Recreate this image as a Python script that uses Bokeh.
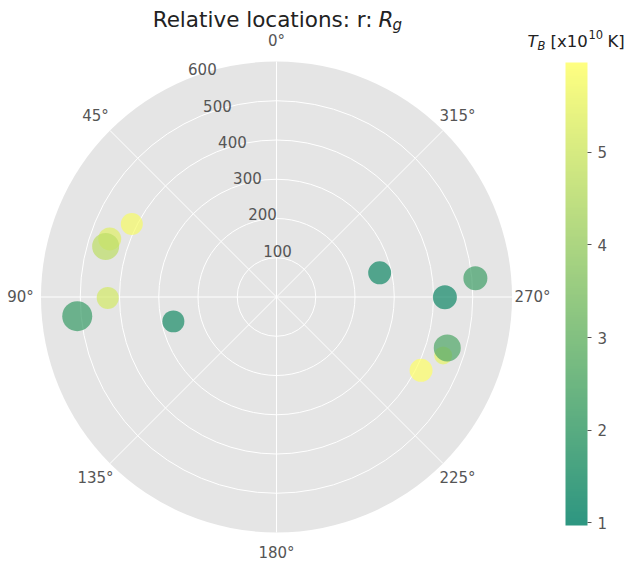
import numpy as np
from bokeh.plotting import figure
from bokeh.models import ColumnDataSource, LinearColorMapper, ColorBar, FixedTicker, Label, Range1d
from bokeh.core.properties import value
from bokeh.embed import file_html
from bokeh.resources import INLINE

# ---- data -------------------------------------------------------------
# position angle in degrees (counter-clockwise from north) and radius in R_g
theta_deg = [63.2, 243.1, 70.8, 250.7, 73.5, 253.4, 90.3, 269.9, 95.5, 275.4, 103.3, 283.2]
radius_rg = [413, 413, 450, 450, 454, 454, 430, 429, 510, 509, 270, 270]
# brightness temperature, units of 1e10 K
tb_1e10 = [5.8, 5.97, 5.35, 5.5, 4.7, 2.5, 5.1, 1.3, 2.05, 2.2, 1.45, 1.35]
# marker diameters (px)
marker_size = [22, 23, 23, 18, 27, 27, 22, 24, 30, 24, 22, 23]
# colour scale limits, units of 1e10 K
tb_limits = [0.97, 5.97]

r_grid = [100, 200, 300, 400, 500]
r_tick_values = [100, 200, 300, 400, 500, 600]
r_tick_labels = ["100", "200", "300", "400", "500", "600"]
theta_tick_values = [0, 45, 90, 135, 180, 225, 270, 315]
theta_tick_labels = ["0°", "45°", "90°", "135°", "180°", "225°", "270°", "315°"]
cbar_ticks = [1, 2, 3, 4, 5]
R_MAX = 600

# ---- layout -----------------------------------------------------------
W, H = 630, 564
CX, CY = 276.0, 296.5          # pole position in px (from top-left)
PX = 0.3925                    # px per R_g
TICK_GREY = "#555555"
FONT = "DejaVu Sans"


def to_xy(r, th_deg):
    th = np.radians(np.asarray(th_deg, dtype=float))
    r = np.asarray(r, dtype=float)
    return -r * np.sin(th), r * np.cos(th)


p = figure(width=W, height=H, output_backend="svg", toolbar_location=None,
           x_range=Range1d(-CX / PX, (W - CX) / PX),
           y_range=Range1d(-(H - CY) / PX, CY / PX),
           x_axis_type=None, y_axis_type=None, min_border=0)
p.grid.visible = False
p.outline_line_color = None
p.background_fill_color = "white"
p.border_fill_color = "white"

# polar background and grid
p.circle(x=[0], y=[0], radius=R_MAX, fill_color="#E5E5E5", line_color=None)
p.circle(x=[0] * len(r_grid), y=[0] * len(r_grid), radius=r_grid,
         fill_color=None, line_color="white", line_width=1)
sx, sy = to_xy([R_MAX] * len(theta_tick_values), theta_tick_values)
p.segment(x0=[0] * len(sx), y0=[0] * len(sy), x1=sx, y1=sy,
          line_color="white", line_width=1)

# angular tick labels
lx, ly = to_xy([R_MAX * 1.087] * len(theta_tick_values), theta_tick_values)
p.text(x=lx, y=ly, text=theta_tick_labels, text_align="center", text_baseline="middle",
       text_font=value(FONT), text_font_size=value("15px"), text_color=TICK_GREY)

# radial tick labels along 22.5 deg
rx, ry = to_xy(r_tick_values, [22.5] * len(r_tick_values))
p.text(x=rx, y=ry, text=r_tick_labels, text_align="center", text_baseline="middle",
       x_offset=16, y_offset=-10,
       text_font=value(FONT), text_font_size=value("15px"), text_color=TICK_GREY)

# summer colormap
summer = ["#%02x%02x%02x" % (int(round(255 * t)), int(round(255 * (0.5 + 0.5 * t))), int(round(255 * 0.4)))
          for t in np.linspace(0, 1, 256)]
mapper = LinearColorMapper(palette=summer, low=tb_limits[0], high=tb_limits[1])

px_, py_ = to_xy(radius_rg, theta_deg)
src = ColumnDataSource(dict(x=px_, y=py_, tb=tb_1e10, size=marker_size))
p.scatter(x="x", y="y", size="size", source=src,
          fill_color={"field": "tb", "transform": mapper}, fill_alpha=0.7,
          line_color=None)

# colour bar
cbar = ColorBar(color_mapper=mapper, ticker=FixedTicker(ticks=cbar_ticks),
                width=22, height=463, location=(565, 39), padding=0,
                scale_alpha=0.82, major_tick_out=4, major_tick_in=0,
                major_tick_line_color=TICK_GREY, minor_tick_line_color=None,
                major_label_text_font_size="15px", major_label_text_color=TICK_GREY,
                major_label_text_font=FONT, label_standoff=6,
                bar_line_color=None, border_line_color=None,
                background_fill_color=None)
p.add_layout(cbar)


def add_label(x, y, text, size, style="normal", align="left", color="black"):
    p.add_layout(Label(x=x, y=y, x_units="screen", y_units="screen", text=text,
                       text_font=FONT, text_font_size=size, text_font_style=style,
                       text_align=align, text_baseline="alphabetic", text_color=color))


# title: Relative locations: r: R_g
ty = H - 19
add_label(372, ty, "Relative locations: r:", "21.5px", align="right", color="#222222")
add_label(378, ty, "R", "21.5px", style="italic", color="#222222")
add_label(392, ty - 5, "g", "15px", style="italic", color="#222222")

# colour bar title: T_B [x10^10 K]
cy = H - 41
add_label(527, cy, "T", "16.5px", style="italic", color="#222222")
add_label(537, cy - 4, "B", "11.5px", style="italic", color="#222222")
add_label(550, cy, "[x10", "16.5px", color="#222222")
add_label(588, cy + 7, "10", "11.5px", color="#222222")
add_label(607, cy, "K]", "16.5px", color="#222222")

open("out.html", "w").write(file_html(p, INLINE))
